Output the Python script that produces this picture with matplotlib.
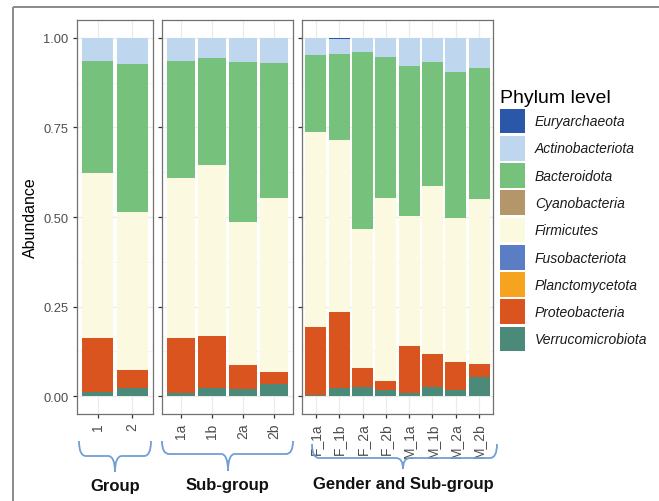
import matplotlib.pyplot as plt
from matplotlib.patches import Patch, PathPatch, Rectangle
from matplotlib.path import Path
from matplotlib.ticker import MultipleLocator

plt.rcParams['font.family'] = ['Liberation Sans', 'DejaVu Sans']

W, H = 659, 502

phyla = ['Euryarchaeota', 'Actinobacteriota', 'Bacteroidota', 'Cyanobacteria',
         'Firmicutes', 'Fusobacteriota', 'Planctomycetota', 'Proteobacteria',
         'Verrucomicrobiota']
phylum_colors = ['#2a57a8', '#bed6ee', '#76c27c', '#b39669', '#fbf9df',
                 '#5b7dc4', '#f6a420', '#d9541f', '#4b8a78']

group_labels = ['1', '2']
subgroup_labels = ['1a', '1b', '2a', '2b']
gender_labels = ['F_1a', 'F_1b', 'F_2a', 'F_2b', 'M_1a', 'M_1b', 'M_2a', 'M_2b']

# relative abundance per bar: 2 groups, 4 sub-groups, 8 gender/sub-groups
euryarchaeota = [0, 0,
                 0, 0, 0, 0,
                 0, 0.004, 0, 0, 0, 0, 0, 0]
actinobacteriota = [0.065, 0.073,
                    0.065, 0.056, 0.068, 0.070,
                    0.049, 0.041, 0.038, 0.054, 0.079, 0.068, 0.095, 0.085]
bacteroidota = [0.312, 0.413,
                0.326, 0.299, 0.447, 0.378,
                0.214, 0.239, 0.496, 0.394, 0.418, 0.346, 0.407, 0.366]
cyanobacteria = [0, 0,
                 0, 0, 0, 0,
                 0, 0, 0, 0, 0, 0, 0, 0]
firmicutes = [0.461, 0.440,
              0.446, 0.476, 0.398, 0.484,
              0.543, 0.481, 0.387, 0.509, 0.363, 0.468, 0.404, 0.459]
fusobacteriota = [0, 0,
                  0, 0, 0, 0,
                  0, 0, 0, 0, 0, 0, 0, 0]
planctomycetota = [0, 0,
                   0, 0, 0, 0,
                   0, 0, 0, 0, 0, 0, 0, 0]
proteobacteria = [0.150, 0.051,
                  0.155, 0.146, 0.066, 0.033,
                  0.192, 0.213, 0.054, 0.027, 0.130, 0.093, 0.078, 0.037]
verrucomicrobiota = [0.012, 0.023,
                     0.008, 0.023, 0.021, 0.035,
                     0.002, 0.022, 0.025, 0.016, 0.010, 0.025, 0.016, 0.053]

abundance = [euryarchaeota, actinobacteriota, bacteroidota, cyanobacteria,
             firmicutes, fusobacteriota, planctomycetota, proteobacteria,
             verrucomicrobiota]

panels = [
    ('Group', group_labels, 0, (77, 153)),
    ('Sub-group', subgroup_labels, 2, (162, 293)),
    ('Gender and Sub-group', gender_labels, 6, (302, 493)),
]
panel_top, panel_bottom = 21, 415


def px_axes(fig, x0, x1, y0, y1, **kw):
    return fig.add_axes([x0 / W, 1 - y1 / H, (x1 - x0) / W, (y1 - y0) / H], **kw)


def brace_path(x0, x1, xm, ytop, ybase, ytip, r=7):
    verts = [(x0, ytop), (x0, ybase), (x0 + r, ybase),
             (xm - r, ybase), (xm, ybase), (xm, ytip),
             (xm, ybase), (xm + r, ybase),
             (x1 - r, ybase), (x1, ybase), (x1, ytop)]
    codes = [Path.MOVETO, Path.CURVE3, Path.CURVE3,
             Path.LINETO, Path.CURVE3, Path.CURVE3,
             Path.CURVE3, Path.CURVE3,
             Path.LINETO, Path.CURVE3, Path.CURVE3]
    return Path(verts, codes)


fig = plt.figure(figsize=(W / 100, H / 100), dpi=100)

for i, (title, labels, start, (x0, x1)) in enumerate(panels):
    ax = px_axes(fig, x0, x1, panel_top, panel_bottom)
    n = len(labels)
    pos = list(range(n))
    bottom = [0.0] * n
    # stack from the last phylum upward so Euryarchaeota ends on top
    for vals, color in zip(reversed(abundance), reversed(phylum_colors)):
        seg = vals[start:start + n]
        ax.bar(pos, seg, width=0.9, bottom=bottom, color=color, linewidth=0, zorder=2)
        bottom = [b + s for b, s in zip(bottom, seg)]

    ax.set_xlim(-0.6, n - 1 + 0.6)
    ax.set_ylim(-0.05, 1.05)
    ax.set_xticks(pos)
    ax.set_xticklabels(labels, rotation=90, fontsize=10, color='#4d4d4d', va='top')
    ax.yaxis.set_major_locator(MultipleLocator(0.25))
    ax.yaxis.set_minor_locator(MultipleLocator(0.125))
    ax.set_axisbelow(True)
    ax.grid(which='major', color='#ebebeb', linewidth=0.9)
    ax.grid(which='minor', axis='y', color='#f2f2f2', linewidth=0.5)
    ax.tick_params(which='major', length=3, width=0.9, color='#333333', pad=3)
    ax.tick_params(which='minor', length=0)
    for sp in ax.spines.values():
        sp.set_color('#707070')
        sp.set_linewidth(0.9)
    if i == 0:
        ax.set_yticklabels(['%.2f' % t for t in ax.get_yticks()],
                           fontsize=9.3, color='#4d4d4d')
        ax.set_ylabel('Abundance', fontsize=11.5, color='black', labelpad=4)
    else:
        ax.tick_params(axis='y', labelleft=False)

# overlay for the outer frame, braces and facet names
over = fig.add_axes([0, 0, 1, 1], facecolor='none')
over.set_xlim(0, W)
over.set_ylim(H, 0)
over.axis('off')
over.add_patch(Rectangle((13, 8), 700, 600, fill=False, edgecolor='#8a8a8a',
                         linewidth=1.4, clip_on=False))

braces = [
    ('Group', 79, 151, 115, 442, 457, 473, 487),
    ('Sub-group', 162, 293, 228, 442, 455, 472, 486),
    ('Gender and Sub-group', 312, 497, 403, 445, 459, 470, 485),
]
for name, bx0, bx1, bxm, yt, yb, ytip, ytext in braces:
    over.add_patch(PathPatch(brace_path(bx0, bx1, bxm, yt, yb, ytip), fill=False,
                             edgecolor='#6f9fd6', linewidth=1.3, clip_on=False))
for (name, labels, start, (x0, x1)), b in zip(panels, braces):
    over.text(b[3] if name == 'Gender and Sub-group' else (x0 + x1) / 2, b[7], name,
              ha='center', va='center', fontsize=12, fontweight='bold', color='#111111')

handles = [Patch(facecolor=c, edgecolor='none') for c in phylum_colors]
leg = fig.legend(handles, phyla, loc='upper left',
                 bbox_to_anchor=(500 / W, 1 - 90 / H), frameon=False,
                 title='Phylum level', title_fontsize=14,
                 prop={'size': 10, 'style': 'italic'},
                 handlelength=1.8, handleheight=2.35, labelspacing=0.19,
                 handletextpad=0.72, borderpad=0, borderaxespad=0,
                 alignment='left')
for t in leg.get_texts():
    t.set_color('#1a1a1a')

fig.savefig('out.png', dpi=100)
